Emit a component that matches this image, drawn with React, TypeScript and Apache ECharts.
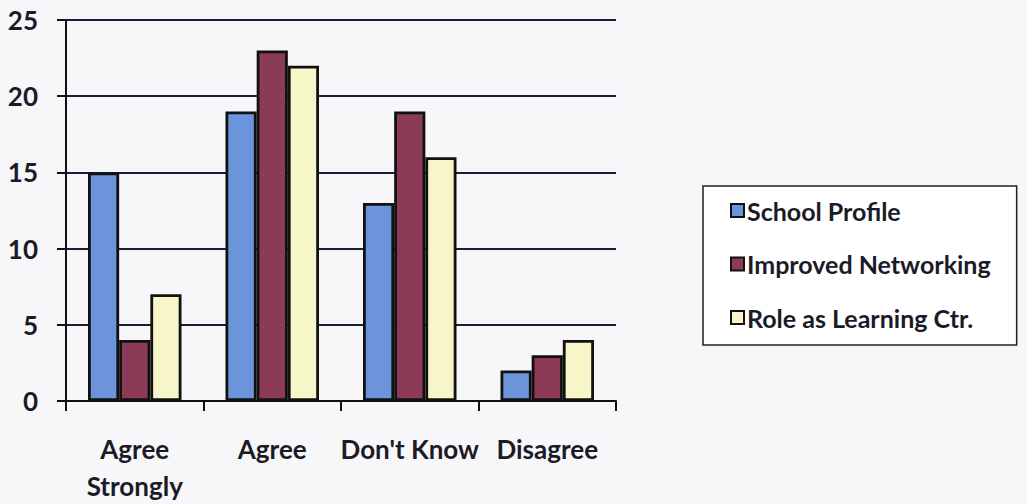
import React, { useEffect, useRef } from "react";
import * as echarts from "echarts";

const categories = ["Agree\nStrongly", "Agree", "Don't Know", "Disagree"];
const seriesNames = ["School Profile", "Improved Networking", "Role as Learning Ctr."];
const schoolProfile = [15, 19, 13, 2];
const improvedNetworking = [4, 23, 19, 3];
const roleAsLearningCtr = [7, 22, 16, 4];
const colors = ["#6b94da", "#8b3a58", "#f6f6c9"];

const FONT = "Lato";
const INK = "#1b1b28";

export default function App() {
  const ref = useRef<HTMLDivElement>(null);
  useEffect(() => {
    if (!ref.current) return;
    const chart = echarts.init(ref.current, null, { renderer: "svg" });
    const values = [schoolProfile, improvedNetworking, roleAsLearningCtr];
    chart.setOption({
      animation: false,
      backgroundColor: "#f7f7f9",
      textStyle: { fontFamily: FONT },
      grid: { left: 66, right: 411, top: 20, bottom: 101, containLabel: false },
      legend: {
        orient: "vertical",
        left: 703,
        top: 186,
        padding: [12, 26, 15, 27],
        borderColor: "#222",
        borderWidth: 1.5,
        backgroundColor: "#ffffff",
        itemWidth: 13,
        itemHeight: 13,
        itemGap: 28.5,
        icon: "rect",
        textStyle: {
          fontFamily: FONT,
          fontWeight: "bold",
          fontSize: 25,
          lineHeight: 22,
          color: INK,
          padding: [0, 0, 0, -2],
        },
        data: seriesNames,
      },
      xAxis: {
        type: "category",
        data: categories,
        axisLine: { lineStyle: { color: "#111", width: 2 } },
        axisTick: { show: true, length: 10, lineStyle: { color: "#111", width: 2 } },
        axisLabel: {
          interval: 0,
          margin: 29,
          fontFamily: FONT,
          fontWeight: "bold",
          fontSize: 26,
          lineHeight: 37,
          color: INK,
        },
      },
      yAxis: {
        type: "value",
        min: 0,
        max: 25,
        interval: 5,
        axisLine: { show: true, lineStyle: { color: "#111", width: 2 } },
        axisTick: { show: true, length: 9, lineStyle: { color: "#111", width: 2 } },
        axisLabel: {
          margin: 28,
          fontFamily: FONT,
          fontWeight: "bold",
          fontSize: 26,
          color: INK,
        },
        splitLine: { lineStyle: { color: "#1c1c3a", width: 2 } },
      },
      series: seriesNames.map((name, i) => ({
        name,
        type: "bar",
        data: values[i],
        barGap: "0%",
        barCategoryGap: "32%",
        itemStyle: { color: colors[i], borderColor: "#111", borderWidth: 2.8 },
      })),
    });
    return () => chart.dispose();
  }, []);
  return <div ref={ref} style={{ position: "fixed", left: 0, top: 0, width: 1027, height: 504 }} />;
}
